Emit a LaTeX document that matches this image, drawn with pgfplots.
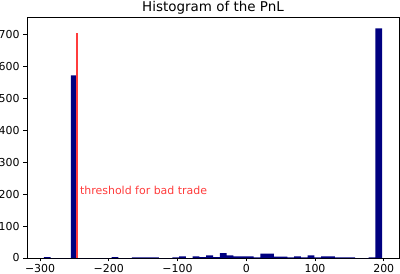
\documentclass[border=0pt]{standalone}
\usepackage{fontspec}
\setmainfont{DejaVu Sans}
\usepackage{pgfplots}
\pgfplotsset{compat=1.18}
\definecolor{navybar}{RGB}{0,0,128}
\definecolor{thr}{RGB}{255,60,60}
\begin{document}
\fontsize{11}{13}\selectfont
\begin{tikzpicture}
\begin{axis}[
  scale only axis,
  width=372bp, height=241bp,
  xmin=-319, xmax=222.2,
  ymin=0, ymax=756,
  xtick={-300,-200,-100,0,100,200},
  xticklabels={−300,−200,−100,0,100,200},
  ytick={0,100,200,300,400,500,600,700},
  tick align=outside,
  major tick length=3.5bp,
  tick style={line width=0.8bp, black},
  axis line style={line width=0.8bp},
  xtick pos=bottom, ytick pos=left,
  /pgf/number format/assume math mode=true,
  ticklabel style={font=\fontsize{11}{13}\selectfont},
  xticklabel style={yshift=1bp},
  title={Histogram of the PnL},
  title style={font=\fontsize{13.5}{15}\selectfont, yshift=-7.5bp},
  clip=false,
]
\addplot[const plot, fill=navybar, draw=none, mark=none] table {
x y
-294.40 3
-284.56 0
-274.72 0
-264.88 0
-255.04 573
-245.20 0
-235.36 0
-225.52 0
-215.68 0
-205.84 0
-196.00 3
-186.16 0
-176.32 0
-166.48 2
-156.64 2
-146.80 2
-136.96 2
-127.12 0
-117.28 0
-107.44 2
-97.60 5
-87.76 0
-77.92 5
-68.08 3
-58.24 8
-48.40 3
-38.56 15
-28.72 8
-18.88 5
-9.04 5
0.80 5
10.64 2
20.48 14
30.32 14
40.16 4
50.00 4
59.84 2
69.68 5
79.52 2
89.36 8
99.20 2
109.04 5
118.88 5
128.72 2
138.56 2
148.40 2
158.24 0
168.08 0
177.92 2
187.76 720
197.60 720
} \closedcycle;
\addplot[thr, line width=1.5bp, mark=none] coordinates {(-246.5,0) (-246.5,705)};
\node[anchor=base west, inner sep=0pt, text=thr, font=\fontsize{11}{13}\selectfont] at (axis cs:-242,200) {threshold for bad trade};
\end{axis}
\pgfresetboundingbox
\useasboundingbox ([shift={(-27bp,-16bp)}]current axis.south west) rectangle ([shift={(1bp,17bp)}]current axis.north east);
\end{tikzpicture}
\end{document}
